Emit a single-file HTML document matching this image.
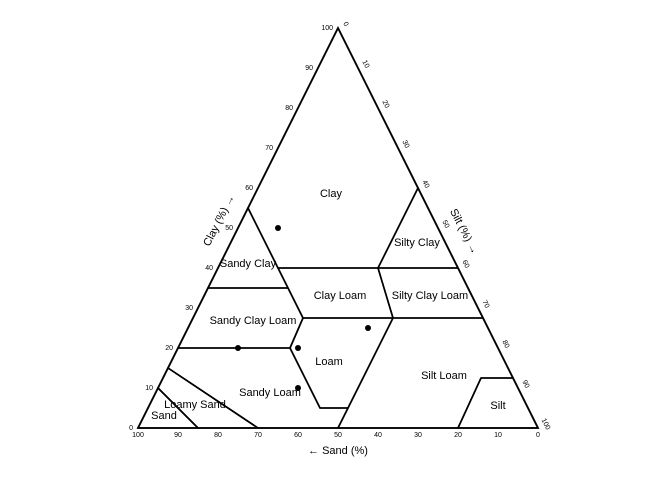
<!DOCTYPE html>
<html><head><meta charset="utf-8"><style>
body{margin:0;background:#fff}
svg{display:block;font-family:"Liberation Sans",sans-serif}
</style></head><body>
<svg id="chart" width="672" height="480" viewBox="0 0 672 480"></svg>
<script>
const tickValues=[0,10,20,30,40,50,60,70,80,90,100];
// regions: [sand, clay] vertices
const regionNames=["Clay","Sandy Clay","Silty Clay","Silty Clay Loam","Clay Loam","Sandy Clay Loam","Loam","Sandy Loam","Loamy Sand","Sand","Silt Loam","Silt"];
const regionPolys=[
 [[0,100],[0,60],[20,40],[45,40],[45,55]],
 [[45,55],[45,35],[65,35]],
 [[0,60],[0,40],[20,40]],
 [[0,40],[20,40],[22.5,27.5],[0,27.5]],
 [[20,40],[45,40],[45,27.5],[22.5,27.5]],
 [[45,35],[65,35],[80,20],[52,20],[45,27.5]],
 [[45,27.5],[22.5,27.5],[45,5],[52,5],[52,20]],
 [[52,20],[80,20],[85,15],[70,0],[50,0],[45,5],[52,5]],
 [[85,15],[90,10],[85,0],[70,0]],
 [[90,10],[100,0],[85,0]],
 [[22.5,27.5],[0,27.5],[0,12.5],[8,12.5],[20,0],[50,0],[45,5]],
 [[8,12.5],[0,12.5],[0,0],[20,0]]];
const labelPos=[[331,193],[248,263],[417,242],[430,295],[340,295],[253,320],[329,361],[270,392],[195,404],[164,415],[444,375],[498,405]];
const sampleSand=[40,65,50,30,55];
const sampleClay=[50,20,20,25,10];
const X=(s,c)=>538-4*s-2*c, Y=c=>428-4*c;
const svg=document.getElementById('chart');const NS='http://www.w3.org/2000/svg';
function mk(t,a,p){const e=document.createElementNS(NS,t);for(const k in a)e.setAttribute(k,a[k]);(p||svg).appendChild(e);return e;}
regionPolys.forEach((poly,i)=>{
 const e=mk('polygon',{points:poly.map(p=>X(p[0],p[1])+','+Y(p[1])).join(' '),fill:'none',stroke:'#000','stroke-width':1.6,'stroke-linejoin':'round'});
 
 
 const t=mk('text',{x:labelPos[i][0],y:labelPos[i][1]+4,'text-anchor':'middle','font-size':11});t.textContent=regionNames[i];
 
 
});
const tri=mk('polygon',{points:`${X(100,0)},${Y(0)} ${X(0,0)},${Y(0)} ${X(0,100)},${Y(100)}`,fill:'none',stroke:'#000','stroke-width':1.8});


tickValues.forEach(v=>{
 let t=mk('text',{x:X(100-v,v)-5,y:Y(v)+2,'text-anchor':'end','font-size':7});t.textContent=v;
 
 
 const cx=X(0,100-v)+6,cy=Y(100-v)-3;
 t=mk('text',{x:cx,y:cy,'text-anchor':'middle','font-size':7,transform:`rotate(63 ${cx} ${cy})`});t.textContent=v;
 
 
 t=mk('text',{x:X(v,0),y:437,'text-anchor':'middle','font-size':7});t.textContent=v;
 
 
});
sampleSand.forEach((s,i)=>{const c=mk('circle',{cx:X(s,sampleClay[i]),cy:Y(sampleClay[i]),r:3,fill:'#000'});
 
 });
let t=mk('text',{x:222,y:222,'text-anchor':'middle','font-size':11,transform:'rotate(-63 222 222)'});t.textContent='Clay (%) →';

t=mk('text',{x:461,y:233,'text-anchor':'middle','font-size':11,transform:'rotate(63 461 233)'});t.textContent='Silt (%) →';

t=mk('text',{x:338,y:454,'text-anchor':'middle','font-size':11});t.textContent='← Sand (%)';

</script></body></html>
